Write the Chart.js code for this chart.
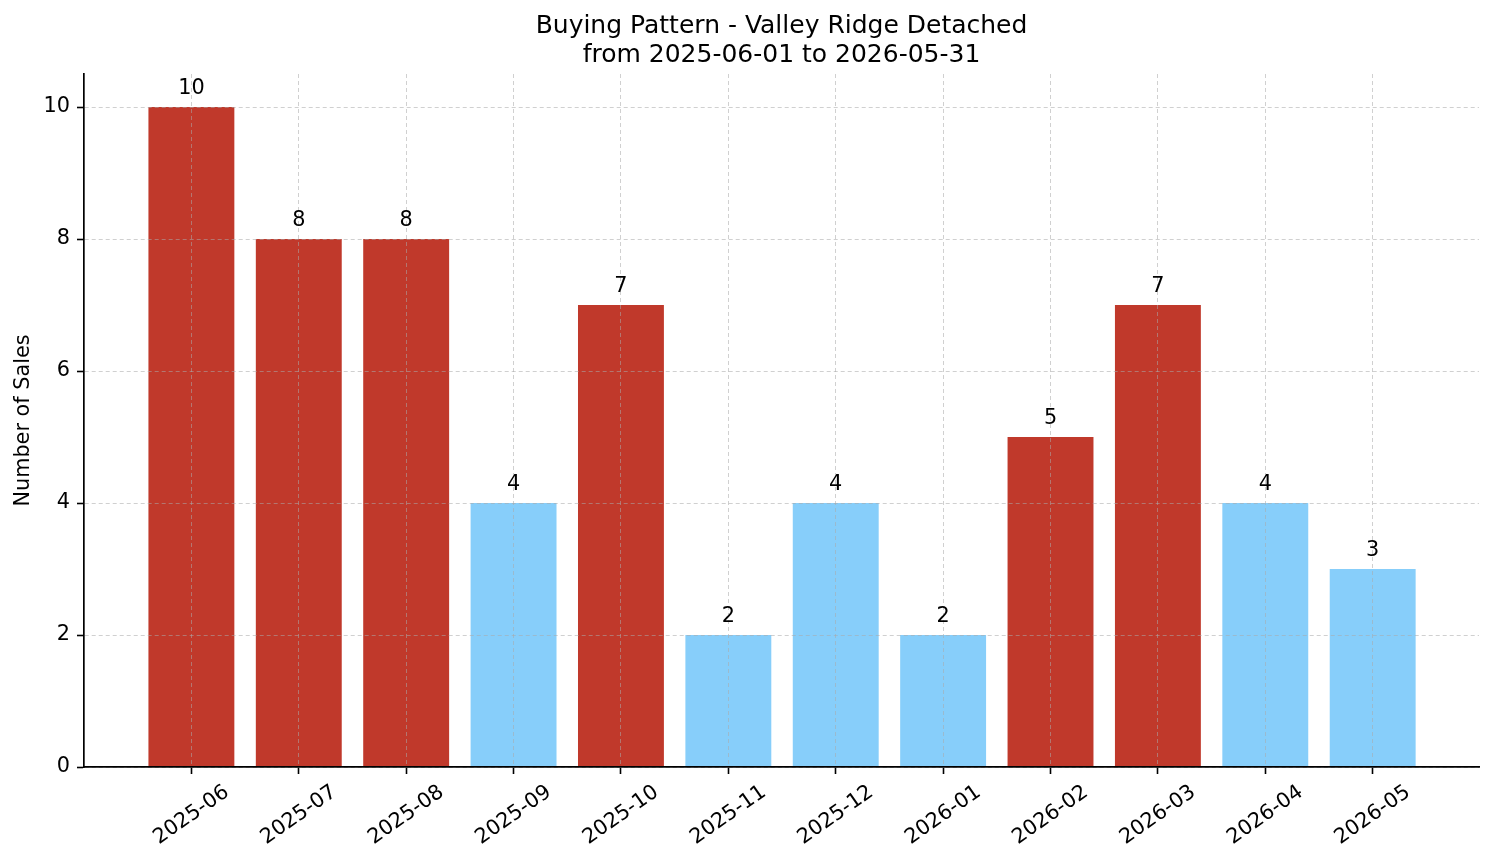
<!DOCTYPE html>
<html>
<head>
<meta charset="utf-8">
<script src="https://cdn.jsdelivr.net/npm/chart.js@4/dist/chart.umd.min.js"></script>
<style>
  body { margin: 0; background: #fff; }
  canvas { display: block; }
</style>
</head>
<body>
<canvas id="salesChart" width="1494" height="863"></canvas>
<script>
// data
const titleLines = ['Buying Pattern - Valley Ridge Detached', 'from 2025-06-01 to 2026-05-31'];
const months = ['2025-06', '2025-07', '2025-08', '2025-09', '2025-10', '2025-11',
                '2025-12', '2026-01', '2026-02', '2026-03', '2026-04', '2026-05'];
const sales = [10, 8, 8, 4, 7, 2, 4, 2, 5, 7, 4, 3];
const yTicks = [0, 2, 4, 6, 8, 10];

const RED = '#C0392B';
const BLUE = '#87CEFA';
const FONT = 'DejaVu Sans';

// bars above the median are red
const sorted = [...sales].sort((a, b) => a - b);
const median = (sorted[5] + sorted[6]) / 2;
const barColors = sales.map(v => v > median ? RED : BLUE);

// title (centred over the plot area), value labels, rotated month labels
const labelPlugin = {
  id: 'labels',
  afterDraw(chart) {
    const ctx = chart.ctx;
    const area = chart.chartArea;
    const meta = chart.getDatasetMeta(0);
    const xScale = chart.scales.x;
    ctx.save();
    ctx.fillStyle = '#000';
    ctx.textAlign = 'center';
    ctx.textBaseline = 'alphabetic';

    ctx.font = `25px "${FONT}"`;
    const cx = (area.left + area.right) / 2;
    ctx.fillText(titleLines[0], cx, 33);
    ctx.fillText(titleLines[1], cx, 62);

    ctx.font = `20.8px "${FONT}"`;
    meta.data.forEach((bar, i) => {
      ctx.fillText(String(sales[i]), bar.x, bar.y - 13);
    });

    const ang = 35 * Math.PI / 180;
    ctx.textBaseline = 'middle';
    months.forEach((m, i) => {
      const px = xScale.getPixelForValue(i);
      const w = ctx.measureText(m).width;
      const h = w * Math.sin(ang) + 20 * Math.cos(ang);
      const cy = xScale.top + 15 + h / 2;
      ctx.save();
      ctx.translate(px, cy);
      ctx.rotate(-ang);
      ctx.fillText(m, 0, 0);
      ctx.restore();
    });
    ctx.restore();
  }
};

const ctx = document.getElementById('salesChart').getContext('2d');

new Chart(ctx, {
  type: 'bar',
  data: {
    datasets: [{
      data: sales.map((v, i) => ({ x: i, y: v })),
      backgroundColor: barColors,
      borderWidth: 0,
      barPercentage: 0.8,
      categoryPercentage: 1.0
    }]
  },
  options: {
    responsive: false,
    animation: false,
    layout: { padding: { left: 0, right: 15, top: 74, bottom: 0 } },
    plugins: {
      legend: { display: false },
      tooltip: { enabled: false },
      title: { display: false }
    },
    scales: {
      x: {
        type: 'linear',
        min: -1.0,
        max: 11.99,
        offset: false,
        afterBuildTicks(scale) {
          scale.ticks = months.map((_, i) => ({ value: i }));
        },
        afterFit(scale) { scale.height = 96; },
        ticks: { display: false },
        grid: {
          offset: false,
          color: 'rgba(170,170,170,0.55)',
          lineWidth: 1,
          tickColor: '#000',
          tickLength: 7,
          tickWidth: 1.6,
          z: 1
        },
        border: { color: '#000', width: 1.7, dash: [4, 3], z: 2 }
      },
      y: {
        min: 0,
        max: 10.5,
        afterBuildTicks(scale) {
          scale.ticks = yTicks.map(v => ({ value: v }));
        },
        afterFit(scale) { scale.width = 84; },
        ticks: {
          color: '#000',
          padding: 7,
          font: { family: FONT, size: 20.8 }
        },
        grid: {
          color: 'rgba(170,170,170,0.55)',
          lineWidth: 1,
          tickColor: '#000',
          tickLength: 7,
          tickWidth: 1.6,
          z: 1
        },
        border: { color: '#000', width: 1.7, dash: [4, 3], z: 2 },
        title: {
          display: true,
          text: 'Number of Sales',
          color: '#000',
          font: { family: FONT, size: 20.8 },
          padding: { top: 11, bottom: 0 }
        }
      }
    }
  },
  plugins: [labelPlugin]
});
</script>
</body>
</html>
